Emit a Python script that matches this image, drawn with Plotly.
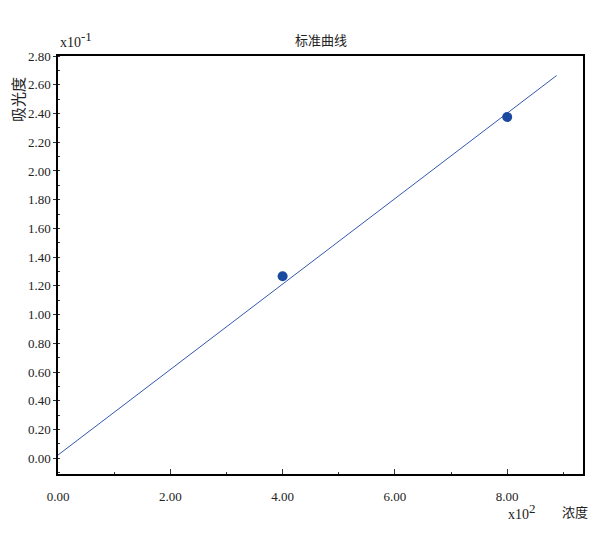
import plotly.graph_objects as go

# Data (x in units of 10^2, y in units of 10^-1)
conc = [4.00, 8.00]
absorbance = [1.267, 2.375]
fit_x = [0.00, 8.88]
fit_y = [0.023, 2.664]

x_ticks = [0, 2, 4, 6, 8]
y_ticks = [i * 0.2 for i in range(15)]

FONT = "Liberation Serif, Noto Sans CJK SC, serif"

fig = go.Figure()
fig.add_trace(go.Scatter(x=fit_x, y=fit_y, mode="lines",
                         line=dict(color="#3557b0", width=1), showlegend=False))
fig.add_trace(go.Scatter(x=conc, y=absorbance, mode="markers",
                         marker=dict(color="#1a4aa0", size=10), showlegend=False))

fig.update_layout(
    width=614, height=535,
    margin=dict(l=49.5, r=38.5, t=47.5, b=69, autoexpand=False),
    plot_bgcolor="white", paper_bgcolor="white",
    font=dict(family=FONT, size=13, color="#222222"),
    showlegend=False,
)
fig.update_xaxes(range=[0, 9.35], tickvals=x_ticks, tickformat=".2f",
                 showgrid=False, zeroline=False, automargin=False,
                 showline=True, linecolor="black", linewidth=1.5, mirror=True,
                 ticks="inside", ticklen=5, tickcolor="#333", ticklabelstandoff=10,
                 minor=dict(dtick=1, ticks="inside", ticklen=2, tickcolor="#333"))
fig.update_yaxes(range=[-0.109, 2.80], tickvals=y_ticks, tickformat=".2f",
                 showgrid=False, zeroline=False, automargin=False,
                 showline=True, linecolor="black", linewidth=1.5, mirror=True,
                 ticks="outside", ticklen=3, tickcolor="#333",
                 minor=dict(dtick=0.1, ticks="inside", ticklen=2, tickcolor="#333"))

fig.add_annotation(text="标准曲线", x=0.5, xref="paper", y=1, yref="paper",
                   yanchor="middle", yshift=15.5, showarrow=False,
                   font=dict(size=13, family=FONT))
fig.add_annotation(text="x10<sup><span style='font-size:13px'>-1</span></sup>", x=0, xref="paper", y=1, yref="paper",
                   xanchor="left", yanchor="bottom", xshift=0, yshift=4, showarrow=False,
                   font=dict(size=14, family=FONT))
fig.add_annotation(text="x10<sup><span style='font-size:13px'>2</span></sup>", x=8.0, xref="x", y=0, yref="paper",
                   xanchor="left", yanchor="middle", xshift=-1, yshift=-37, showarrow=False,
                   font=dict(size=14, family=FONT))
fig.add_annotation(text="浓度", x=1, xref="paper", y=0, yref="paper",
                   xanchor="center", yanchor="middle", xshift=-8.5, yshift=-38, showarrow=False,
                   font=dict(size=13, family=FONT))
fig.add_annotation(text="吸光度", x=0, xref="paper", y=1, yref="paper",
                   xanchor="center", yanchor="middle", xshift=-39, yshift=-44, textangle=-90,
                   showarrow=False, font=dict(size=15, family=FONT))

fig.write_html("out.html")
